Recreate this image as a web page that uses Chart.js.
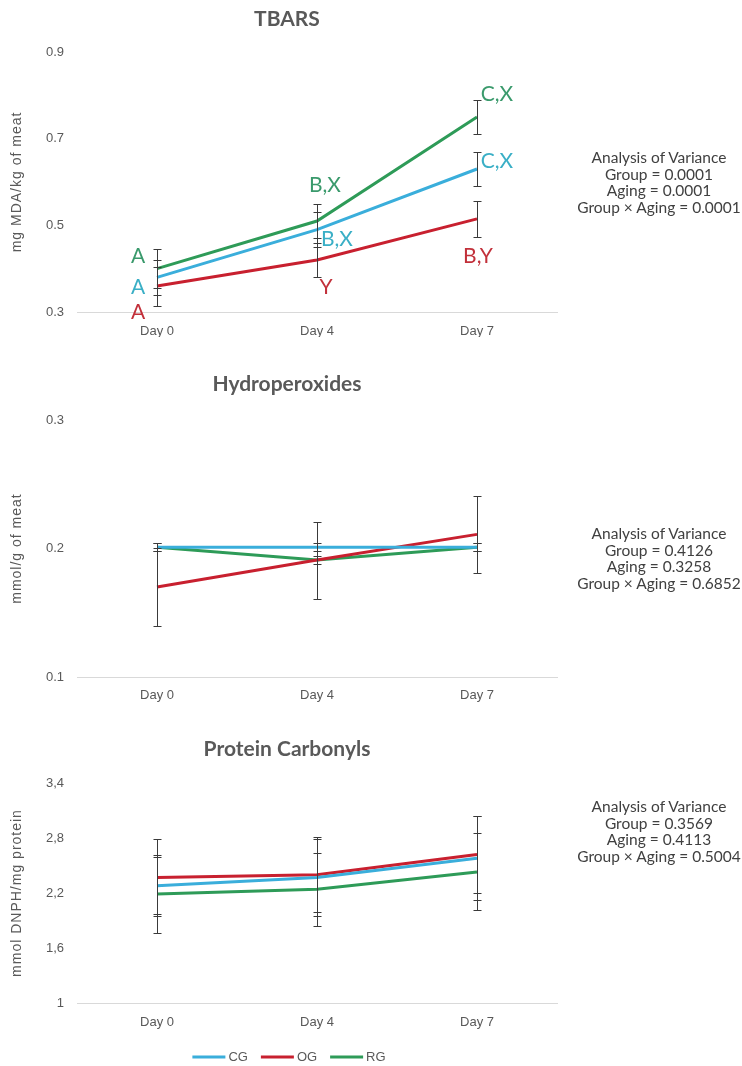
<!DOCTYPE html>
<html><head><meta charset="utf-8">
<script src="https://cdn.jsdelivr.net/npm/chart.js@4.4.1/dist/chart.umd.min.js"></script>
<style>
html,body{margin:0;padding:0;background:#fff;}
#wrap{position:relative;width:742px;height:1066px;overflow:hidden;background:#fff;}
canvas{position:absolute;left:0;}
.title{position:absolute;left:137px;width:300px;text-align:center;font:700 21px Lato, sans-serif;color:#595959;line-height:24px;white-space:nowrap;}
.anova{position:absolute;left:559px;width:200px;text-align:center;font:15.5px Lato, sans-serif;color:#404040;line-height:16.5px;white-space:nowrap;}
</style></head><body>
<div id="wrap">
<canvas id="c1" width="742" height="340" style="top:0px"></canvas>
<canvas id="c2" width="742" height="370" style="top:340px"></canvas>
<canvas id="c3" width="742" height="356" style="top:710px"></canvas>
<div class="title" style="top:6px">TBARS</div>
<div class="title" style="top:371px">Hydroperoxides</div>
<div class="title" style="top:736px">Protein Carbonyls</div>
<div class="anova" style="top:149px">Analysis of Variance<br>Group = 0.0001<br>Aging = 0.0001<br>Group × Aging = 0.0001</div>
<div class="anova" style="top:525px">Analysis of Variance<br>Group = 0.4126<br>Aging = 0.3258<br>Group × Aging = 0.6852</div>
<div class="anova" style="top:798px">Analysis of Variance<br>Group = 0.3569<br>Aging = 0.4113<br>Group × Aging = 0.5004</div>
</div>
<script>
// ---------- DATA ----------
const days = ['Day 0', 'Day 4', 'Day 7'];
const groups = ['CG', 'OG', 'RG'];

// TBARS (mg MDA/kg of meat)
const tbarsCG = [0.38, 0.49, 0.63];
const tbarsOG = [0.36, 0.42, 0.515];
const tbarsRG = [0.40, 0.51, 0.75];
const tbarsErrCG = [0.04, 0.04, 0.04];
const tbarsErrOG = [0.045, 0.04, 0.042];
const tbarsErrRG = [0.045, 0.04, 0.04];
const tbarsLettersCG = ['A', 'B,X', 'C,X'];
const tbarsLettersOG = ['A', 'Y', 'B,Y'];
const tbarsLettersRG = ['A', 'B,X', 'C,X'];
const tbarsTicks = [0.3, 0.5, 0.7, 0.9];
const tbarsTickLabels = ['0.3', '0.5', '0.7', '0.9'];

// Hydroperoxides (mmol/g of meat)
const hydroCG = [0.201, 0.201, 0.201];
const hydroOG = [0.170, 0.191, 0.211];
const hydroRG = [0.201, 0.191, 0.201];
const hydroErrCG = [0.003, 0.003, 0.003];
const hydroErrOG = [0.030, 0.030, 0.030];
const hydroErrRG = [0.003, 0.003, 0.003];
const hydroTicks = [0.1, 0.2, 0.3];
const hydroTickLabels = ['0.1', '0.2', '0.3'];

// Protein carbonyls (mmol DNPH/mg protein)
const protCG = [2.28, 2.37, 2.58];
const protOG = [2.37, 2.40, 2.62];
const protRG = [2.19, 2.24, 2.43];
const protErrCG = [0.31, 0.42, 0.46];
const protErrOG = [0.42, 0.41, 0.42];
const protErrRG = [0.43, 0.40, 0.42];
const protTicks = [1, 1.6, 2.2, 2.8, 3.4];
const protTickLabels = ['1', '1,6', '2,2', '2,8', '3,4'];

// ---------- STYLE ----------
const lineColors = {CG: '#3aaedb', OG: '#c8202f', RG: '#2e9b58'};
const letterColors = {CG: '#3aafc6', OG: '#c2303a', RG: '#3a9a6c'};
// pixel offsets of significance letters relative to their point (style/layout only)
const letterOffsets = {
  CG: [[-19, 10], [20, 10], [20, -8]],
  OG: [[-19, 26], [9, 27], [1, 37]],
  RG: [[-19, -12], [8, -36], [20, -23]]
};
const tickFont = {family: 'Liberation Sans, Arial, sans-serif', size: 13};
const grey = '#595959';

const errorBarPlugin = {
  id: 'errorBars',
  afterDatasetsDraw(chart) {
    const ctx = chart.ctx, xs = chart.scales.x, ys = chart.scales.y;
    ctx.save();
    ctx.strokeStyle = '#3a3a3a';
    ctx.lineWidth = 1;
    chart.data.datasets.forEach(ds => {
      if (!ds.errors) return;
      ds.data.forEach((v, i) => {
        const x = Math.round(xs.getPixelForValue(i)) + 0.5;
        const yt = Math.round(ys.getPixelForValue(v + ds.errors[i])) + 0.5;
        const yb = Math.round(ys.getPixelForValue(v - ds.errors[i])) + 0.5;
        ctx.beginPath();
        ctx.moveTo(x, yt); ctx.lineTo(x, yb);
        ctx.moveTo(x - 4, yt); ctx.lineTo(x + 4, yt);
        ctx.moveTo(x - 4, yb); ctx.lineTo(x + 4, yb);
        ctx.stroke();
      });
    });
    ctx.restore();
  }
};

const lettersPlugin = {
  id: 'letters',
  afterDatasetsDraw(chart) {
    const ctx = chart.ctx, xs = chart.scales.x, ys = chart.scales.y;
    ctx.save();
    ctx.font = '21px Lato, sans-serif';
    ctx.textAlign = 'center';
    ctx.textBaseline = 'middle';
    chart.data.datasets.forEach(ds => {
      if (!ds.letters) return;
      ds.data.forEach((v, i) => {
        const off = letterOffsets[ds.label][i];
        ctx.fillStyle = letterColors[ds.label];
        ctx.fillText(ds.letters[i], xs.getPixelForValue(i) + off[0], ys.getPixelForValue(v) + off[1]);
      });
    });
    ctx.restore();
  }
};

const yTitlePlugin = {
  id: 'yTitle',
  afterDraw(chart, args, opts) {
    if (!opts.text) return;
    const ctx = chart.ctx, a = chart.chartArea;
    ctx.save();
    ctx.translate(17, (a.top + a.bottom) / 2);
    ctx.rotate(-Math.PI / 2);
    ctx.font = '14px "Liberation Sans", Arial, sans-serif';
    try { ctx.letterSpacing = '1px'; } catch (e) {}
    ctx.fillStyle = grey;
    ctx.textAlign = 'center';
    ctx.textBaseline = 'middle';
    ctx.fillText(opts.text, 0, 0);
    ctx.restore();
  }
};

const lineLegendPlugin = {
  id: 'lineLegend',
  afterDraw(chart, args, opts) {
    if (!opts.show) return;
    const ctx = chart.ctx;
    ctx.save();
    ctx.font = '13px "Liberation Sans", Arial, sans-serif';
    const lineW = 33, gap = 3, itemGap = 13;
    const items = chart.data.datasets.map(ds => ({label: ds.label, color: ds.borderColor, w: ctx.measureText(ds.label).width}));
    let total = items.reduce((s, it) => s + lineW + gap + it.w, 0) + itemGap * (items.length - 1);
    let x = opts.cx - total / 2;
    const y = opts.y;
    items.forEach(it => {
      ctx.strokeStyle = it.color;
      ctx.lineWidth = 3;
      ctx.beginPath(); ctx.moveTo(x, y); ctx.lineTo(x + lineW, y); ctx.stroke();
      ctx.fillStyle = grey;
      ctx.textBaseline = 'middle';
      ctx.textAlign = 'left';
      ctx.fillText(it.label, x + lineW + gap, y + 0.5);
      x += lineW + gap + it.w + itemGap;
    });
    ctx.restore();
  }
};

function makeDatasets(cg, og, rg, ecg, eog, erg, letters) {
  const vals = {CG: cg, OG: og, RG: rg};
  const errs = {CG: ecg, OG: eog, RG: erg};
  return groups.map(g => ({
    label: g,
    data: vals[g],
    errors: errs[g],
    letters: letters ? letters[g] : null,
    borderColor: lineColors[g],
    backgroundColor: lineColors[g],
    borderWidth: 3,
    pointRadius: 0,
    tension: 0,
    fill: false
  }));
}

function makeChart(id, datasets, cfg) {
  return new Chart(document.getElementById(id), {
    type: 'line',
    data: {labels: days, datasets: datasets},
    options: {
      responsive: false,
      animation: false,
      events: [],
      layout: {padding: {left: 0, right: 185, top: cfg.padTop, bottom: cfg.padBottom}},
      plugins: {
        legend: {display: false},
        tooltip: {enabled: false},
        yTitle: {text: cfg.yTitle},
        lineLegend: {show: !!cfg.legend, cx: 289, y: cfg.legendY || 0}
      },
      scales: {
        x: {
          type: 'category',
          offset: true,
          grid: {display: false, drawTicks: false},
          border: {display: true, color: '#d9d9d9', width: 1},
          ticks: {color: grey, font: tickFont, padding: cfg.xPad, maxRotation: 0, autoSkip: false},
          afterFit(s) { s.height = cfg.xHeight; }
        },
        y: {
          min: cfg.ticks[0],
          max: cfg.ticks[cfg.ticks.length - 1],
          afterBuildTicks(s) { s.ticks = cfg.ticks.map(v => ({value: v})); },
          grid: {display: false, drawTicks: false},
          border: {display: false},
          ticks: {
            color: grey, font: tickFont, padding: 13,
            callback: (v, i) => cfg.tickLabels[i]
          },
          afterFit(s) { s.width = 77; }
        }
      }
    },
    plugins: [errorBarPlugin, lettersPlugin, yTitlePlugin, lineLegendPlugin]
  });
}

// canvas c1 (page 0..340): plot area 52..312
makeChart('c1',
  makeDatasets(tbarsCG, tbarsOG, tbarsRG, tbarsErrCG, tbarsErrOG, tbarsErrRG,
    {CG: tbarsLettersCG, OG: tbarsLettersOG, RG: tbarsLettersRG}),
  {padTop: 52, padBottom: 3, xHeight: 25, xPad: 12, ticks: tbarsTicks, tickLabels: tbarsTickLabels, yTitle: 'mg MDA/kg of meat'});

// canvas c2 (page 340..710): plot area 80..337 (page 420..677)
makeChart('c2',
  makeDatasets(hydroCG, hydroOG, hydroRG, hydroErrCG, hydroErrOG, hydroErrRG, null),
  {padTop: 80, padBottom: 3, xHeight: 30, xPad: 11, ticks: hydroTicks, tickLabels: hydroTickLabels, yTitle: 'mmol/g of meat'});

// canvas c3 (page 710..1066): plot area 73..293 (page 783..1003)
makeChart('c3',
  makeDatasets(protCG, protOG, protRG, protErrCG, protErrOG, protErrRG, null),
  {padTop: 73, padBottom: 3, xHeight: 60, xPad: 12, ticks: protTicks, tickLabels: protTickLabels, yTitle: 'mmol DNPH/mg protein', legend: true, legendY: 347});
</script>
</body></html>
